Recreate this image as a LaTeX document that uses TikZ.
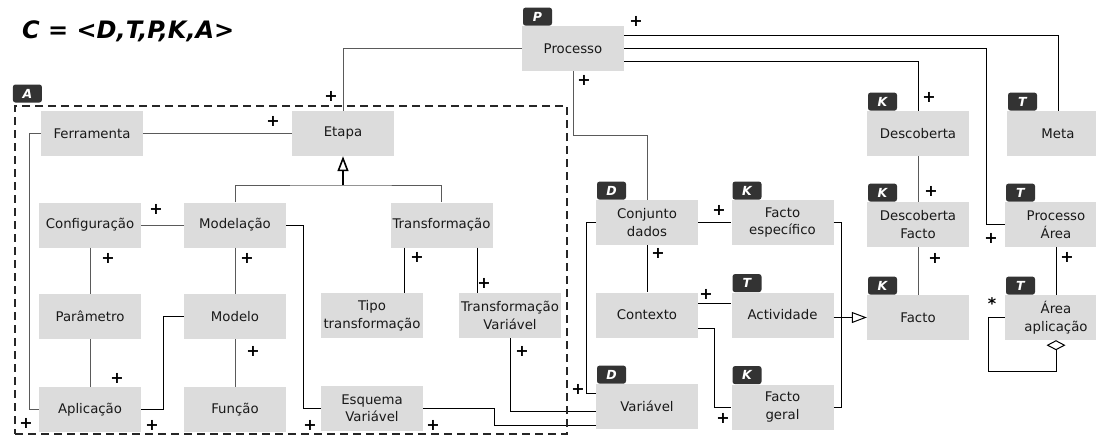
\documentclass[tikz,border=0pt]{standalone}
\usepackage{fontspec}
\setmainfont{DejaVu Sans}
\usetikzlibrary{arrows.meta,calc}
\definecolor{boxfill}{HTML}{DCDCDC}
\definecolor{tagfill}{HTML}{333333}
\definecolor{lngray}{HTML}{5A5A5A}

\begin{document}
\begin{tikzpicture}[x=1pt,y=-1pt,
  box/.style={fill=boxfill, minimum width=102pt, minimum height=45pt, inner sep=0pt,
    align=center, font=\fontsize{13.3}{17.5}\selectfont, text=black!90},
  tag/.style={fill=tagfill, rounded corners=2.5pt, minimum width=29pt, minimum height=18pt,
    inner sep=0pt, text=white, font=\fontsize{12.5}{12.5}\selectfont\bfseries\itshape, anchor=south west},
  lnk/.style={draw=lngray, line width=1pt},
  lnkb/.style={draw=black, line width=1pt},
  mult/.style={font=\fontsize{16}{16}\selectfont\bfseries, inner sep=0pt},
  gen/.style={-{Triangle[length=15pt,width=11pt,fill=white]}},
  agg/.style={{Diamond[length=10pt,width=19pt,fill=white]}-},
  group/.style={draw=black!85, line width=2.6pt, dash pattern=on 8pt off 5pt,
    minimum width=552pt, minimum height=328pt, inner sep=0pt}
]
\useasboundingbox (0,0) rectangle (1096,442);

% title
\node[anchor=west, inner sep=0pt, font=\fontsize{24}{24}\selectfont\bfseries\itshape] (title) at (22,31.5) {C = <D,T,P,K,A>};

% classes
\node[box] (proc) at (573,48.5) {Processo};
\node[box] (ferr) at (92,133.5) {Ferramenta};
\node[box] (etapa) at (343,133.5) {Etapa};
\node[box] (desc) at (918,133.5) {Descoberta};
\node[box] (meta) at (1058,133.5) {Meta};
\node[box] (conf) at (90,225) {Configuração};
\node[box] (model) at (235,225) {Modelação};
\node[box] (transf) at (441.5,225) {Transformação};
\node[box] (conj) at (647,222.5) {Conjunto\\dados};
\node[box] (fesp) at (782.5,222.5) {Facto\\específico};
\node[box] (dfacto) at (918,224.5) {Descoberta\\Facto};
\node[box] (parea) at (1056,224.5) {Processo\\Área};
\node[box] (param) at (90,316.5) {Parâmetro};
\node[box] (modelo) at (235,316.5) {Modelo};
\node[box] (tipo) at (372,315.5) {Tipo\\transformação};
\node[box] (tvar) at (510,315.5) {Transformação\\Variável};
\node[box] (ctx) at (647,315) {Contexto};
\node[box] (activ) at (782.5,315) {Actividade};
\node[box] (facto) at (918,317.5) {Facto};
\node[box] (aarea) at (1056,317.5) {Área\\aplicação};
\node[box] (aplic) at (90,409.5) {Aplicação};
\node[box] (func) at (235,409.5) {Função};
\node[box] (esq) at (372,408) {Esquema\\Variável};
\node[box] (var) at (647,406.5) {Variável};
\node[box] (fger) at (782.5,407) {Facto\\geral};

% category tags
\foreach \n/\t in {proc/P, desc/K, meta/T, conj/D, fesp/K, dfacto/K, parea/T,
                   activ/T, facto/K, aarea/T, var/D, fger/K}
  \node[tag] (tag-\n) at ([xshift=1pt]\n.north west) {\t};

% Processo associations
\draw[lnk] (proc.west) -| (etapa.north);
\draw[lnkb] ([yshift=13.5pt]proc.east) -| (meta.north);
\draw[lnkb] (proc.east) -| ([xshift=-18pt]parea.west) -- (parea.west);
\draw[lnkb] ([yshift=-12.5pt]proc.east) -| (desc.north);
\draw[lnk] (proc.south) -- ++(0,64) -| (conj.north);

% Etapa and its specialisations
\draw[lnk] (etapa.west) -- (ferr.east);
\draw[lnk] (ferr.west) -- ++(-11,0) |- (aplic.west);
\coordinate (gj) at (343,185);
\draw[lnk] (model.north) |- (gj) -| (transf.north);
\draw[lnkb, line width=1.6pt, gen] (gj) -- (etapa.south);

% Modelação branch
\draw[lnk] (conf.east) -- (model.west);
\draw[lnk] (conf.south) -- (param.north);
\draw[lnk] (param.south) -- (aplic.north);
\draw[lnk] (model.south) -- (modelo.north);
\draw[lnk] (modelo.south) -- (func.north);
\draw[lnkb] (aplic.east) -- ++(22,0) |- (modelo.west);
\draw[lnkb] (model.east) -- ++(17,0) |- (esq.west);

% Transformação branch
\draw[lnkb] ($(transf.south)+(-37,0)$) coordinate (t1) -- (t1 |- tipo.north);
\draw[lnkb] ($(transf.south)+(36,0)$) coordinate (t2) -- (t2 |- tvar.north);
\draw[lnkb] (tvar.south) |- ($(var.west)+(0,4.5)$);
\draw[lnkb] (esq.east) -- ++(71,0) |- ($(var.west)+(0,18.5)$);

% data and knowledge
\draw[lnkb] (conj.west) -- ++(-9,0) |- ($(var.west)+(0,-13.5)$);
\draw[lnkb] (conj.east) -- (fesp.west);
\draw[lnkb] (conj.south) -- (ctx.north);
\draw[lnkb] ($(ctx.east)+(0,-12)$) -- ($(activ.west)+(0,-12)$);
\draw[lnkb] ($(ctx.east)+(0,13)$) -- ++(16,0) |- (fger.west);
\draw[lnkb] (fesp.east) -- ++(8,0) |- (fger.east);
\draw[lnkb, gen] (activ.east |- facto.west) -- (facto.west);
\draw[lnk] (desc.south) -- (dfacto.north);
\draw[lnk] (dfacto.south) -- (facto.north);
\draw[lnkb] (parea.south) -- (aarea.north);
\draw[lnkb, agg] (aarea.south) -- ++(0,31) -| ([xshift=-16pt]aarea.west) -- (aarea.west);

% multiplicities
\foreach \x/\y in {331/96, 636/21, 584/80, 929/97, 991/238, 273/121, 26/423,
                   156/209, 108/258, 117/378, 247/258, 253/351, 152/425, 310/425,
                   417/257, 484/283, 522/351, 433/425, 578/389, 719/210, 658/253,
                   706/294, 723/418, 931/191, 935/258, 1067/257}
  \node[mult] at (\x,\y) {+};
\node[mult] (star) at (992,304) {*};

% analysis group
\node[group] (grpA) at (291,270) {};
\node[tag] (tag-grp) at ([xshift=-1pt,yshift=2pt]grpA.north west) {A};
\end{tikzpicture}
\end{document}
